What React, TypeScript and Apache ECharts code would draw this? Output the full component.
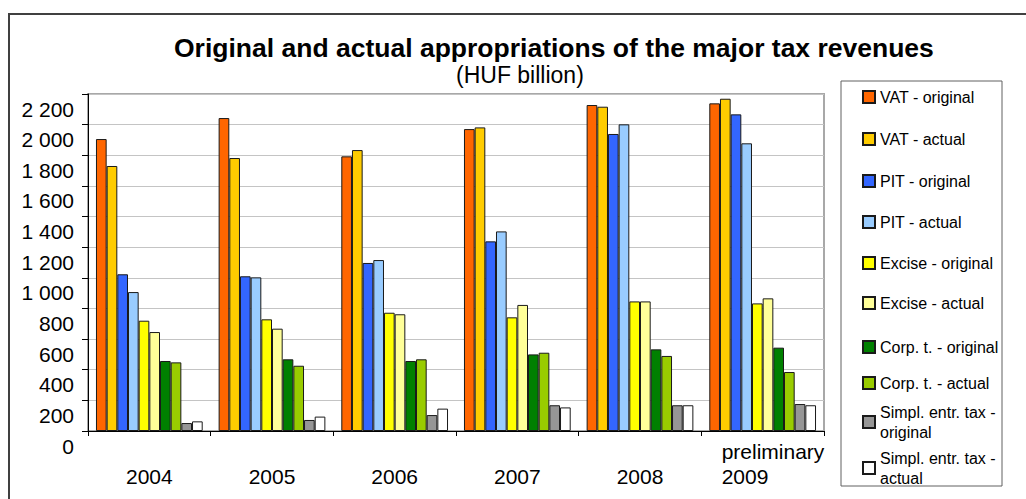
import React, { useEffect, useRef } from "react";
import * as echarts from "echarts";

// Years on the category axis
const years = ["2004", "2005", "2006", "2007", "2008", "preliminary\n2009"];

// Tax revenues, HUF billion
const vatOriginal = [1906, 2043, 1793, 1971, 2128, 2139];
const vatActual = [1730, 1782, 1834, 1982, 2117, 2169];
const pitOriginal = [1023, 1010, 1097, 1238, 1939, 2067];
const pitActual = [907, 1003, 1116, 1303, 2002, 1878];
const exciseOriginal = [720, 729, 772, 742, 846, 833];
const exciseActual = [646, 668, 762, 823, 846, 866];
const corpOriginal = [457, 468, 457, 500, 533, 544];
const corpActual = [448, 426, 468, 511, 490, 385];
const simplOriginal = [52, 72, 104, 168, 168, 176];
const simplActual = [63, 94, 146, 154, 168, 168];

const seriesNames = [
  "VAT - original",
  "VAT - actual",
  "PIT - original",
  "PIT - actual",
  "Excise - original",
  "Excise - actual",
  "Corp. t. - original",
  "Corp. t. - actual",
  "Simpl. entr. tax -\noriginal",
  "Simpl. entr. tax -\nactual",
];
const seriesData = [
  vatOriginal,
  vatActual,
  pitOriginal,
  pitActual,
  exciseOriginal,
  exciseActual,
  corpOriginal,
  corpActual,
  simplOriginal,
  simplActual,
];
const seriesColors = [
  "#FF6600",
  "#FFCC00",
  "#3366FF",
  "#99CCFF",
  "#FFFF00",
  "#FFFF99",
  "#008000",
  "#99CC00",
  "#969696",
  "#FFFFFF",
];
// Vertical centre of each legend entry
const legendCenters = [97, 139, 181, 222, 263, 303, 347, 383, 422, 468];

const FONT = "'Liberation Sans', Arial, sans-serif";

function formatThousands(v: number): string {
  if (v >= 1000) {
    const rest = String(v % 1000).padStart(3, "0");
    return `${Math.floor(v / 1000)} ${rest}`;
  }
  return String(v);
}

export default function App() {
  const ref = useRef<HTMLDivElement>(null);

  useEffect(() => {
    if (!ref.current) return;
    const chart = echarts.init(ref.current, undefined, { renderer: "svg" });

    const series = seriesNames.map((name, i) => ({
      name,
      type: "bar" as const,
      data: seriesData[i],
      barGap: "0%",
      barCategoryGap: "13%",
      itemStyle: {
        color: seriesColors[i],
        borderColor: "#1a1a1a",
        borderWidth: 1,
      },
    }));

    const legends = seriesNames.map((name, i) => {
      const lines = name.split("\n").length;
      const h = lines * 20;
      return {
        data: [name],
        left: 862,
        top: legendCenters[i] - h / 2,
        orient: "vertical" as const,
        padding: 0,
        icon: "rect",
        itemWidth: 12,
        itemHeight: 12,
        selectedMode: false,
        textStyle: {
          fontFamily: FONT,
          fontSize: 16,
          lineHeight: 20,
          color: "#000000",
        },
      };
    });

    chart.setOption({
      animation: false,
      backgroundColor: "#ffffff",
      textStyle: { fontFamily: FONT },
      title: [
        {
          text: "Original and actual appropriations of the major tax revenues",
          left: 174,
          top: 34,
          padding: 0,
          textStyle: {
            fontFamily: FONT,
            fontSize: 26.5,
            fontWeight: "bold",
            color: "#000000",
          },
        },
        {
          text: "(HUF billion)",
          left: 456,
          top: 63,
          padding: 0,
          textStyle: {
            fontFamily: FONT,
            fontSize: 23,
            fontWeight: "normal",
            color: "#000000",
          },
        },
      ],
      legend: legends,
      grid: {
        left: 88,
        right: 202,
        top: 94,
        bottom: 68,
        show: true,
        borderColor: "#a8a8a8",
        borderWidth: 2,
        backgroundColor: "transparent",
      },
      xAxis: {
        type: "category",
        data: years,
        axisLine: { lineStyle: { color: "#000000", width: 1 } },
        axisTick: { show: true, length: 5, lineStyle: { color: "#000000" } },
        axisLabel: {
          interval: 0,
          margin: 58,
          verticalAlign: "bottom",
          fontFamily: FONT,
          fontSize: 21,
          lineHeight: 25,
          color: "#000000",
          formatter: (v: string) => {
            if (v.indexOf("\n") >= 0) {
              return v
                .split("\n")
                .map((s) => `{p|${s}}`)
                .join("\n");
            }
            return v;
          },
          rich: {
            p: {
              width: 82,
              align: "left",
              fontFamily: FONT,
              fontSize: 21,
              lineHeight: 25,
              color: "#000000",
            },
          },
        },
      },
      yAxis: {
        type: "value",
        min: 0,
        max: 2200,
        interval: 200,
        axisLine: { show: true, lineStyle: { color: "#000000", width: 1 } },
        axisTick: { show: true, length: 6, lineStyle: { color: "#000000" } },
        splitLine: { show: true, lineStyle: { color: "#c4c4c4", width: 1 } },
        axisLabel: {
          margin: 14,
          fontFamily: FONT,
          fontSize: 21,
          color: "#000000",
          verticalAlign: "top",
          lineHeight: 30,
          showMinLabel: true,
          showMaxLabel: true,
          hideOverlap: false,
          formatter: (v: number) => formatThousands(v),
        },
      },
      graphic: [
        {
          type: "polyline",
          shape: {
            points: [
              [9, 499],
              [9, 14],
              [1026, 14],
            ],
          },
          style: { stroke: "#404040", lineWidth: 2, fill: "none" },
          silent: true,
        },
        {
          type: "rect",
          shape: { x: 841, y: 81, width: 161, height: 405 },
          style: { stroke: "#606060", lineWidth: 1, fill: "none" },
          silent: true,
          z: -1,
        },
      ],
      series,
    });

    return () => {
      chart.dispose();
    };
  }, []);

  return (
    <div
      ref={ref}
      style={{ position: "fixed", left: 0, top: 0, width: 1026, height: 499 }}
    />
  );
}
